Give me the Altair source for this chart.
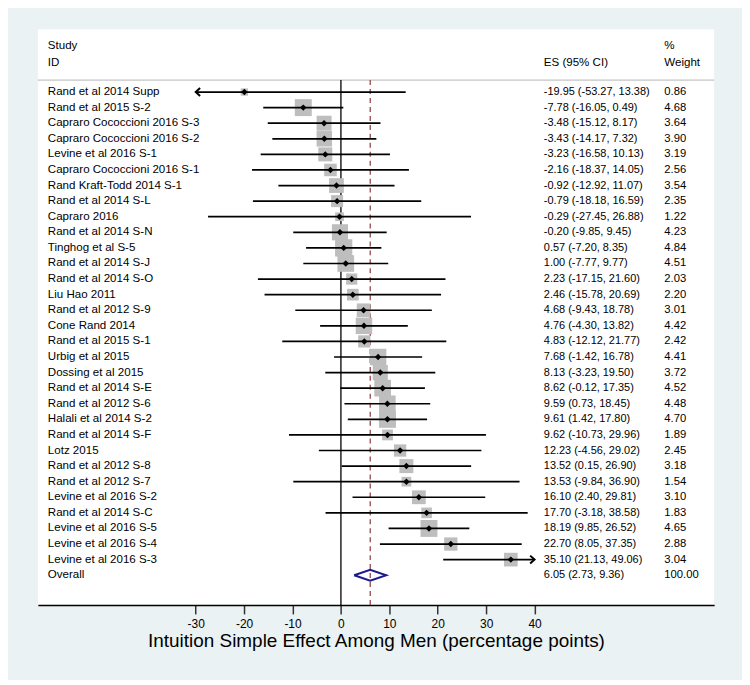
import altair as alt
import pandas as pd

studies = [
    "Rand et al 2014 Supp", "Rand et al 2015 S-2", "Capraro Cococcioni 2016 S-3",
    "Capraro Cococcioni 2016 S-2", "Levine et al 2016 S-1", "Capraro Cococcioni 2016 S-1",
    "Rand Kraft-Todd 2014 S-1", "Rand et al 2014 S-L", "Capraro 2016", "Rand et al 2014 S-N",
    "Tinghog et al S-5", "Rand et al 2014 S-J", "Rand et al 2014 S-O", "Liu Hao 2011",
    "Rand et al 2012 S-9", "Cone Rand 2014", "Rand et al 2015 S-1", "Urbig et al 2015",
    "Dossing et al 2015", "Rand et al 2014 S-E", "Rand et al 2012 S-6", "Halali et al 2014 S-2",
    "Rand et al 2014 S-F", "Lotz 2015", "Rand et al 2012 S-8", "Rand et al 2012 S-7",
    "Levine et al 2016 S-2", "Rand et al 2014 S-C", "Levine et al 2016 S-5",
    "Levine et al 2016 S-4", "Levine et al 2016 S-3",
]
es = [-19.95, -7.78, -3.48, -3.43, -3.23, -2.16, -0.92, -0.79, -0.29, -0.20,
      0.57, 1.00, 2.23, 2.46, 4.68, 4.76, 4.83, 7.68, 8.13, 8.62, 9.59, 9.61,
      9.62, 12.23, 13.52, 13.53, 16.10, 17.70, 18.19, 22.70, 35.10]
ci_low = [-53.27, -16.05, -15.12, -14.17, -16.58, -18.37, -12.92, -18.18, -27.45, -9.85,
          -7.20, -7.77, -17.15, -15.78, -9.43, -4.30, -12.12, -1.42, -3.23, -0.12, 0.73, 1.42,
          -10.73, -4.56, 0.15, -9.84, 2.40, -3.18, 9.85, 8.05, 21.13]
ci_high = [13.38, 0.49, 8.17, 7.32, 10.13, 14.05, 11.07, 16.59, 26.88, 9.45,
           8.35, 9.77, 21.60, 20.69, 18.78, 13.82, 21.77, 16.78, 19.50, 17.35, 18.45, 17.80,
           29.96, 29.02, 26.90, 36.90, 29.81, 38.58, 26.52, 37.35, 49.06]
weights = [0.86, 4.68, 3.64, 3.90, 3.19, 2.56, 3.54, 2.35, 1.22, 4.23,
           4.84, 4.51, 2.03, 2.20, 3.01, 4.42, 2.42, 4.41, 3.72, 4.52, 4.48, 4.70,
           1.89, 2.45, 3.18, 1.54, 3.10, 1.83, 4.65, 2.88, 3.04]

overall_label = "Overall"
overall_es = 6.05
overall_low = 2.73
overall_high = 9.36
overall_weight = 100.00

axis_ticks = [-30, -20, -10, 0, 10, 20, 30, 40]
x_title = "Intuition Simple Effect Among Men (percentage points)"
clip_min, clip_max = -30, 40

FONT = "Liberation Sans"
W, H = 679, 578

n = len(studies)
df = pd.DataFrame({
    "study": studies, "es": es, "lo": ci_low, "hi": ci_high, "w": weights,
    "row": list(range(n)),
})
df["lo_c"] = df["lo"].clip(lower=clip_min)
df["hi_c"] = df["hi"].clip(upper=clip_max)
df["es_txt"] = [f"{a:.2f} ({b:.2f}, {c:.2f})" for a, b, c in zip(es, ci_low, ci_high)]
df["w_txt"] = [f"{v:.2f}" for v in weights]

orow = n
txt = pd.concat([
    df[["study", "row", "es_txt", "w_txt"]],
    pd.DataFrame({"study": [overall_label], "row": [orow],
                  "es_txt": [f"{overall_es:.2f} ({overall_low:.2f}, {overall_high:.2f})"],
                  "w_txt": [f"{overall_weight:.2f}"]}),
], ignore_index=True)

arrows = []
for lo, hi, r in zip(ci_low, ci_high, range(n)):
    if lo < clip_min:
        arrows.append({"x": clip_min, "row": r, "dir": "left"})
    if hi > clip_max:
        arrows.append({"x": clip_max, "row": r, "dir": "right"})
arrows = pd.DataFrame(arrows)

dh = 0.35
diamond = pd.DataFrame({
    "x": [overall_low, overall_es, overall_high, overall_es, overall_low],
    "row": [orow, orow - dh, orow, orow + dh, orow],
    "o": [0, 1, 2, 3, 4],
})

row0_px, row_step = 63, 15.65
x_scale = alt.Scale(domain=[-62.61, 77.10], nice=False, zero=False)
y_scale = alt.Scale(domain=[-row0_px / row_step, (H - row0_px) / row_step],
                    nice=False, zero=False, reverse=True)

x_axis = alt.Axis(
    values=axis_ticks, title=x_title, grid=False, domainColor="black", domainWidth=1.5,
    tickColor="#333333", tickWidth=1.5, tickSize=9, labelFontSize=12, labelPadding=5,
    labelColor="black", labelFont=FONT, titleFont=FONT, titleFontSize=19,
    titleFontWeight="normal", titleColor="black", titlePadding=2,
    labelExpr="'' + datum.value")

X = lambda f: alt.X(f, scale=x_scale, axis=x_axis)
Y = lambda f: alt.Y(f, scale=y_scale, axis=None)

base = alt.Chart(df)

sep = alt.Chart(pd.DataFrame({"a": [0]})).mark_rule(color="#b4b4b4", strokeWidth=1).encode(
    x=alt.value(0), x2=alt.value(W), y=alt.value(51))

zero_line = alt.Chart(pd.DataFrame({"x": [0]})).mark_rule(color="black", strokeWidth=1.3).encode(
    x=X("x:Q"), y=alt.value(51), y2=alt.value(H))

dash_line = alt.Chart(pd.DataFrame({"x": [overall_es]})).mark_rule(
    color="#8b3a3a", strokeWidth=1.2, strokeDash=[5, 4]).encode(
    x=X("x:Q"), y=alt.value(51), y2=alt.value(H))

boxes = base.transform_calculate(sz="datum.w * 62").mark_square(
    color="#bebebe", opacity=1).encode(
    x=X("es:Q"), y=Y("row:Q"), size=alt.Size("sz:Q", scale=None, legend=None))

ci = base.mark_rule(color="black", strokeWidth=1.7).encode(
    x=X("lo_c:Q"), x2="hi_c:Q", y=Y("row:Q"))

dots = base.mark_point(shape="diamond", filled=True, color="black", size=42, opacity=1).encode(
    x=X("es:Q"), y=Y("row:Q"))

arrow_heads = alt.Chart(arrows).mark_point(
    filled=False, color="black", strokeWidth=2, size=64, opacity=1).encode(
    x=X("x:Q"), y=Y("row:Q"),
    shape=alt.Shape("dir:N", scale=alt.Scale(
        domain=["left", "right"],
        range=["M 1.1 -1 L 0 0 L 1.1 1", "M -1.1 -1 L 0 0 L -1.1 1"]), legend=None))

dia = alt.Chart(diamond).mark_line(color="#1c1c8c", strokeWidth=2).encode(
    x=X("x:Q"), y=Y("row:Q"), order="o:Q")

tbase = alt.Chart(txt)
tstyle = dict(font=FONT, fontSize=11.6, color="black", baseline="middle", align="left")
estyle = dict(tstyle, fontSize=11.0)
wstyle = dict(tstyle, fontSize=11.3)
lab = tbase.mark_text(**tstyle).encode(x=alt.value(10), y=Y("row:Q"), text="study:N")
est = tbase.mark_text(**estyle).encode(x=alt.value(508), y=Y("row:Q"), text="es_txt:N")
wt = tbase.mark_text(**wstyle).encode(x=alt.value(629), y=Y("row:Q"), text="w_txt:N")

hdr = pd.DataFrame({
    "t": ["Study", "ID", "ES (95% CI)", "%", "Weight"],
    "px": [10, 10, 508, 629, 629],
    "py": [17, 34, 34, 17, 34],
})
header = alt.Chart(hdr).mark_text(**tstyle).encode(
    x=alt.X("px:Q", scale=None), y=alt.Y("py:Q", scale=None), text="t:N")

chart = alt.layer(
    sep, zero_line, dash_line, boxes, ci, dots, arrow_heads, dia, lab, est, wt, header
).properties(
    width=W, height=H,
    autosize=alt.AutoSizeParams(type="none"),
    padding={"left": 30, "top": 20, "right": 28, "bottom": 74},
    background="#eaf2f3",
).configure_view(fill="white", strokeWidth=0)

chart.save("out.html", embed_options={"renderer": "svg", "actions": False})
